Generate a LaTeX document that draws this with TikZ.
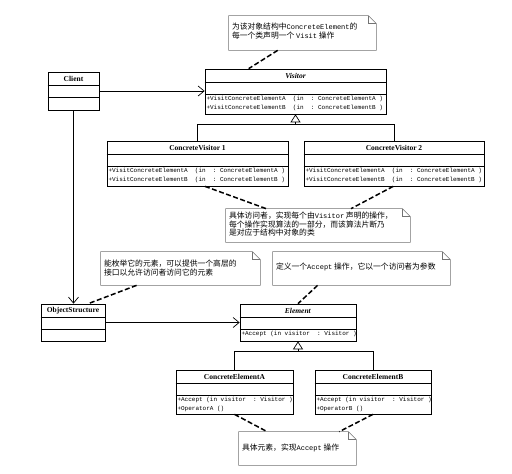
\documentclass[tikz,border=0pt]{standalone}
\usepackage{fontspec}
\setmainfont{Liberation Serif}
\setmonofont{Liberation Mono}
\newfontfamily\cjk{Noto Sans CJK SC}
\usetikzlibrary{arrows.meta, positioning, calc}
\tikzset{
  every picture/.style={line width=0.7pt, x=1pt, y=-1pt},
  umlbox/.style={draw, rectangle, inner sep=0pt},
  umltitle/.style={font=\bfseries\fontsize{7.5}{8}\selectfont, inner sep=0pt},
  umlops/.style={font=\ttfamily\fontsize{6}{8.5}\selectfont, align=left, inner sep=1.5pt, anchor=north west},
  notebox/.style={rectangle, inner sep=0pt},
  noteline/.style={draw=black!55, line width=0.6pt},
  notetext/.style={font=\cjk\fontsize{7.8}{8.6}\selectfont, align=left, inner sep=0pt, anchor=north west},
  assoc/.style={-{Straight Barb[length=6pt, width=10pt]}},
  realize/.style={-{Triangle[open, length=8pt, width=10pt]}},
  anchorline/.style={line width=1.5pt, dash pattern=on 5pt off 2.5pt},
}
% class box: name, centre, width, height, title, operations
\newcommand{\umlclass}[6]{%
  \node[umlbox, minimum width=#3, minimum height=#4] (#1) at (#2) {};
  \node[umltitle] (#1-t) at ($(#1.north)+(0,-7.5pt)$) {#5};
  \draw ($(#1.north west)+(0,-14pt)$) -- ($(#1.north east)+(0,-14pt)$);
  \draw ($(#1.north west)+(0,-26pt)$) -- ($(#1.north east)+(0,-26pt)$);
  \node[umlops] (#1-o) at ($(#1.north west)+(0,-26pt)$) {#6};
}
% note with folded corner: [text drop], name, centre, width, height, text
\newcommand{\umlnote}[6][7pt]{%
  \node[notebox, minimum width=#4, minimum height=#5] (#2) at (#3) {};
  \draw[noteline] (#2.north west) -- ($(#2.north east)+(-8pt,0)$) -- ($(#2.north east)+(0,-8pt)$)
    -- (#2.south east) -- (#2.south west) -- cycle;
  \draw[noteline] ($(#2.north east)+(-8pt,0)$) |- ($(#2.north east)+(0,-8pt)$);
  \node[notetext] (#2-x) at ($(#2.north west)+(3pt,-#1)$) {#6};
}
\newcommand{\lat}[1]{{\ttfamily\fontsize{7}{8.6}\selectfont #1}}

\begin{document}
\begin{tikzpicture}
  \useasboundingbox[fill=white] (0,0) rectangle (512,474);

  % classes
  \umlclass{client}{73.5,91}{51pt}{38pt}{Client}{}
  \umlclass{visitor}{295.5,91.5}{181pt}{45pt}{\textit{Visitor}}%
    {+VisitConcreteElementA~~(in~~:~ConcreteElementA~)\\+VisitConcreteElementB~~(in~~:~ConcreteElementB~)}
  \umlclass{cv1}{197.5,163.5}{181pt}{45pt}{ConcreteVisitor 1}%
    {+VisitConcreteElementA~~(in~~:~ConcreteElementA~)\\+VisitConcreteElementB~~(in~~:~ConcreteElementB~)}
  \umlclass{cv2}{394,163.5}{180pt}{45pt}{ConcreteVisitor 2}%
    {+VisitConcreteElementA~~(in~~:~ConcreteElementA~)\\+VisitConcreteElementB~~(in~~:~ConcreteElementB~)}
  \umlclass{objs}{73,322.5}{64pt}{37pt}{ObjectStructure}{}
  \umlclass{elem}{298,322.5}{116pt}{37pt}{\textit{Element}}{+Accept~(in~visitor~~:~Visitor~)}
  \umlclass{cea}{234.5,392}{117pt}{44pt}{ConcreteElementA}{+Accept~(in~visitor~~:~Visitor~)\\+OperatorA~()}
  \umlclass{ceb}{373,392}{116pt}{44pt}{ConcreteElementB}{+Accept~(in~visitor~~:~Visitor~)\\+OperatorB~()}

  % notes
  \umlnote{vnote}{302.5,33}{147pt}{34pt}{为该对象结构中\lat{ConcreteElement}的\\每一个类声明一个 \lat{Visit} 操作}
  \umlnote[3pt]{cvnote}{318,225.5}{184pt}{33pt}{具体访问者，实现每个由\lat{Visitor} 声明的操作，\\每个操作实现算法的一部分，而该算法片断乃\\是对应于结构中对象的类}
  \umlnote[8pt]{osnote}{180.5,268.5}{159pt}{33pt}{能枚举它的元素，可以提供一个高层的\\接口以允许访问者访问它的元素}
  \umlnote[11pt]{elnote}{361.5,268.5}{177pt}{33pt}{定义一个\lat{Accept} 操作，它以一个访问者为参数}
  \umlnote[12pt]{cenote}{297.5,448.5}{117pt}{33pt}{具体元素，实现\lat{Accept} 操作}

  % associations
  \draw[assoc] (client.east) -- (client.east -| visitor.west);
  \draw[assoc] (client.south) -- (client.south |- objs.north);
  \draw[assoc] (objs.east) -- (objs.east -| elem.west);

  % generalisations
  \coordinate (vjoin) at ($(visitor.south)+(0,-10pt)$);
  \draw (cv1.north) |- (vjoin) -| (cv2.north);
  \draw[realize] (vjoin) -- (visitor.south);
  \coordinate (ejoin) at ($(elem.south)+(0,-10pt)$);
  \draw (cea.north) |- (ejoin) -| (ceb.north);
  \draw[realize] (ejoin) -- (elem.south);

  % note anchors
  \draw[anchorline] (vnote.-145) -- (visitor.154);
  \draw[anchorline] (cv1.-72) -- (cvnote.162);
  \draw[anchorline] (cv2.-92) -- (cvnote.27);
  \draw[anchorline] (osnote.-159) -- (objs.51);
  \draw[anchorline] (elnote.-159) -- (elem.north);
  \draw[anchorline] (cea.south) -- (cenote.151);
  \draw[anchorline] (ceb.south) -- (cenote.22);
\end{tikzpicture}
\end{document}
